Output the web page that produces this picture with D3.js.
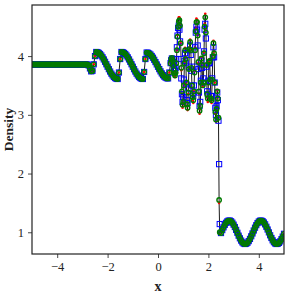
<!DOCTYPE html>
<html lang="en">
<head>
<meta charset="utf-8">
<title>Density</title>
<script src="https://d3js.org/d3.v7.min.js"></script>
<style>
  body { margin: 0; background: #fff; }
  text { font-family: "Liberation Serif", "DejaVu Serif", serif; fill: #222; }
</style>
</head>
<body>
<script>
// grid: coarse left part, fine part through the oscillations, coarse right part
var xLeft  = d3.range(111).map(function(i) { return -5 + i * 0.05; });
var xMid   = d3.range(78).map(function(i) { return 0.525 + i * 0.025; });
var xRight = d3.range(51).map(function(i) { return 2.5 + i * 0.05; });

// smooth parts (all schemes sit on top of each other here)
var rhoLeft = [
  3.857,3.857,3.857,3.857,3.857,3.857,3.857,3.857,3.857,3.857,
  3.857,3.857,3.857,3.857,3.857,3.857,3.857,3.857,3.857,3.857,
  3.857,3.857,3.857,3.857,3.857,3.857,3.857,3.857,3.857,3.857,
  3.857,3.857,3.857,3.857,3.857,3.857,3.857,3.857,3.857,3.857,
  3.857,3.857,3.857,3.857,3.857,
  3.84,3.79,3.74,3.75,3.86,4.00,4.07,
  4.066,4.054,4.036,4.010,3.979,3.943,3.903,3.861,3.819,3.777,3.737,3.701,3.670,3.644,3.626,3.614,3.61,
  3.72,3.95,4.07,
  4.066,4.054,4.036,4.010,3.979,3.943,3.903,3.861,3.819,3.777,3.737,3.701,3.670,3.644,3.626,3.614,3.61,
  3.73,3.95,4.06,
  4.056,4.044,4.027,4.002,3.972,3.937,3.898,3.858,3.818,3.778,3.740,3.705,3.675,3.651,3.634,3.623,3.62,
  3.72,3.88
];
var rhoRight = [
  0.987,1.037,1.084,1.126,1.161,1.185,1.198,1.199,1.187,1.164,
  1.130,1.089,1.041,0.992,0.942,0.897,0.858,0.827,0.808,0.800,
  0.805,0.821,0.850,0.887,0.932,0.980,1.030,1.078,1.121,1.157,
  1.183,1.197,1.199,1.189,1.167,1.135,1.094,1.047,0.998,0.949,
  0.903,0.862,0.831,0.810,0.800,0.804,0.819,0.845,0.882,0.926,0.974
];

// oscillating region behind the shock, one array per scheme
var greenMid = [
  3.95,3.97,3.93,3.85,3.77,3.70,3.67,3.72,3.88,4.10,4.33,4.50,4.59,4.61,4.52,4.22,3.80,3.40,3.17,3.22,
  3.50,3.88,4.10,3.95,3.55,3.18,3.12,3.38,3.78,4.12,4.24,4.10,3.80,3.50,3.30,3.25,3.40,3.72,4.10,4.42,
  4.58,4.58,4.35,3.90,3.40,3.07,3.15,3.55,3.96,3.85,3.50,3.55,4.05,4.50,4.66,4.40,3.85,3.35,3.28,3.55,
  3.90,3.92,3.60,3.28,3.25,3.60,4.00,4.22,4.05,3.55,3.05,2.92,3.10,3.40,3.28,2.95,1.55,1.00
];
var blueMid = [
  3.93,3.96,3.95,3.90,3.84,3.78,3.75,3.80,3.95,4.15,4.35,4.48,4.52,4.45,4.25,3.95,3.62,3.35,3.22,3.30,
  3.60,3.92,4.05,3.88,3.52,3.25,3.20,3.45,3.82,4.10,4.18,4.02,3.75,3.50,3.35,3.32,3.50,3.82,4.15,4.40,
  4.50,4.45,4.18,3.78,3.38,3.15,3.22,3.58,3.92,3.80,3.55,3.62,4.08,4.45,4.55,4.30,3.82,3.40,3.35,3.58,
  3.88,3.88,3.58,3.32,3.32,3.62,3.98,4.15,3.98,3.55,3.12,3.00,3.15,3.38,3.25,2.90,2.16,1.14
];
var redMid = [
  3.96,3.98,3.92,3.82,3.73,3.66,3.64,3.70,3.86,4.10,4.36,4.55,4.66,4.66,4.55,4.22,3.76,3.36,3.12,3.18,
  3.50,3.90,4.14,3.98,3.55,3.15,3.08,3.35,3.78,4.15,4.28,4.12,3.80,3.46,3.25,3.20,3.40,3.74,4.15,4.48,
  4.64,4.62,4.36,3.88,3.36,3.02,3.10,3.52,3.98,3.88,3.48,3.52,4.06,4.55,4.72,4.44,3.84,3.30,3.22,3.52,
  3.92,3.95,3.60,3.24,3.20,3.58,4.02,4.26,4.08,3.55,3.02,2.88,3.08,3.42,3.30,2.96,1.50,0.98
];

var xTicks = [-4, -2, 0, 2, 4];
var yTicks = [1, 2, 3, 4];

var W = 291, H = 295;
var margin = {left: 32, top: 5, right: 7, bottom: 41};
var iw = W - margin.left - margin.right;
var ih = H - margin.top - margin.bottom;

var xs = xLeft.concat(xMid, xRight);
function build(mid) {
  var r = rhoLeft.concat(mid, rhoRight);
  return xs.map(function(x, i) { return {x: x, y: r[i]}; });
}
var green = build(greenMid), blue = build(blueMid), red = build(redMid);

var x = d3.scaleLinear().domain([-5, 5]).range([0, iw]);
var y = d3.scaleLinear().domain([0.63, 4.87]).range([ih, 0]);

var svg = d3.select("body").append("svg")
  .attr("width", W).attr("height", H);

svg.append("defs").append("clipPath").attr("id", "clip")
  .append("rect").attr("width", iw).attr("height", ih);

var g = svg.append("g")
  .attr("transform", "translate(" + margin.left + "," + margin.top + ")");

var plot = g.append("g").attr("clip-path", "url(#clip)");

plot.append("path")
  .datum(red)
  .attr("d", d3.line().x(function(d) { return x(d.x); }).y(function(d) { return y(d.y); }))
  .attr("fill", "none")
  .attr("stroke", "#000")
  .attr("stroke-width", 0.9);

plot.selectAll(".red").data(red).enter().append("circle")
  .attr("cx", function(d) { return x(d.x); })
  .attr("cy", function(d) { return y(d.y); })
  .attr("r", 1.3)
  .attr("fill", "#f00");

plot.selectAll(".blue").data(blue).enter().append("rect")
  .attr("x", function(d) { return x(d.x) - 2.6; })
  .attr("y", function(d) { return y(d.y) - 2.6; })
  .attr("width", 5.2).attr("height", 5.2)
  .attr("fill", "none")
  .attr("stroke", "#00f")
  .attr("stroke-width", 1);

plot.selectAll(".green").data(green).enter().append("circle")
  .attr("cx", function(d) { return x(d.x); })
  .attr("cy", function(d) { return y(d.y); })
  .attr("r", 2.2)
  .attr("fill", "none")
  .attr("stroke", "#007a00")
  .attr("stroke-width", 1.4);

// axes
var xAxis = d3.axisBottom(x).tickValues(xTicks).tickSize(4).tickPadding(4)
  .tickFormat(function(d) { return d < 0 ? "\u2212" + Math.abs(d) : d; });
var yAxis = d3.axisLeft(y).tickValues(yTicks).tickSize(4).tickPadding(4)
  .tickFormat(d3.format("d"));

var gx = g.append("g").attr("transform", "translate(0," + ih + ")").call(xAxis);
var gy = g.append("g").call(yAxis);
[gx, gy].forEach(function(a) {
  a.select(".domain").remove();
  a.selectAll(".tick line").attr("stroke", "#333").attr("stroke-width", 0.9);
  a.selectAll(".tick text").attr("font-size", 12.5).attr("fill", "#222")
    .style("font-family", '"Liberation Serif", serif');
});

g.append("rect")
  .attr("width", iw).attr("height", ih)
  .attr("fill", "none")
  .attr("stroke", "#222")
  .attr("stroke-width", 1.2);

g.append("text")
  .attr("x", iw / 2).attr("y", ih + 37)
  .attr("text-anchor", "middle")
  .attr("font-size", 14).attr("font-weight", "bold")
  .text("x");

g.append("text")
  .attr("transform", "translate(-19," + (ih / 2) + ") rotate(-90)")
  .attr("text-anchor", "middle")
  .attr("font-size", 13.5).attr("font-weight", "bold")
  .text("Density");
</script>
</body>
</html>
